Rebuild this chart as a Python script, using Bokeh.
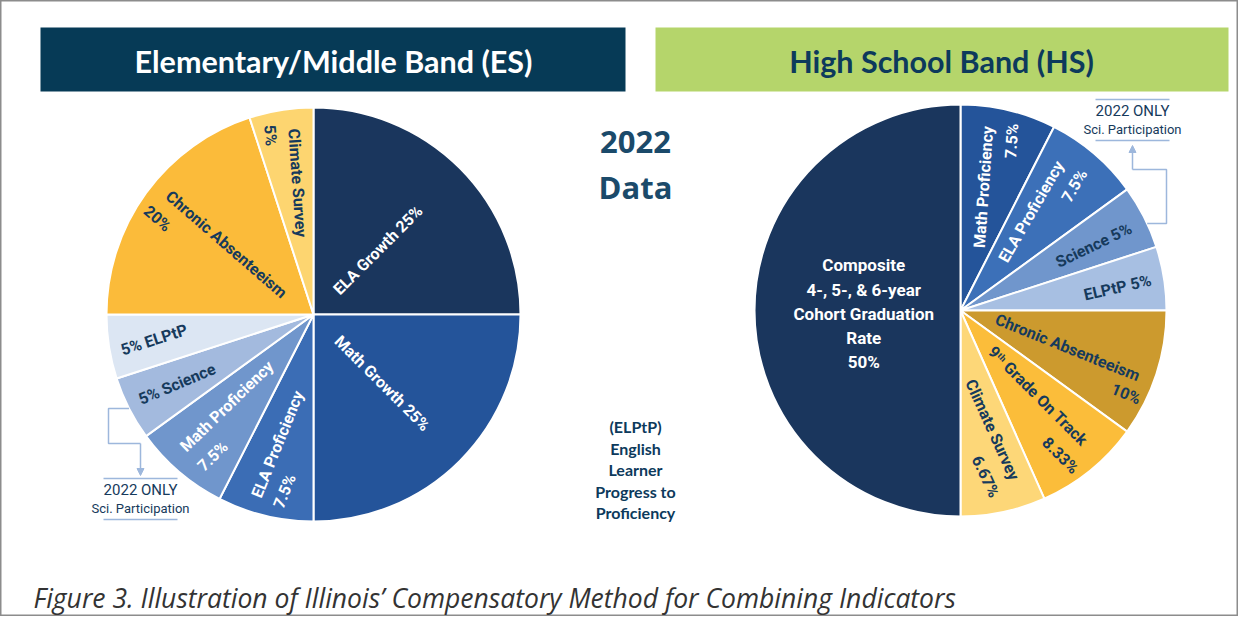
import math
from bokeh.plotting import figure
from bokeh.models import Range1d, Arrow, NormalHead, ColumnDataSource
from bokeh.core.properties import value
from bokeh.embed import file_html
from bokeh.resources import INLINE

# ---------------- data ----------------
es_names = ["ELA Growth", "Math Growth", "ELA Proficiency", "Math Proficiency",
            "Science", "ELPtP", "Chronic Absenteeism", "Climate Survey"]
es_values = [25, 25, 7.5, 7.5, 5, 5, 20, 5]
es_label_lines = [["ELA Growth 25%"], ["Math Growth 25%"], ["ELA Proficiency", "7.5%"],
                  ["Math Proficiency", "7.5%"], ["5% Science"], ["5% ELPtP"],
                  ["Chronic Absenteeism", "20%"], ["Climate Survey", "5%"]]

hs_names = ["Math Proficiency", "ELA Proficiency", "Science", "ELPtP",
            "Chronic Absenteeism", "9th Grade On Track", "Climate Survey",
            "Composite Cohort Graduation Rate"]
hs_values = [7.5, 7.5, 5, 5, 10, 8.33, 6.67, 50]
hs_label_lines = [["Math Proficiency", "7.5%"], ["ELA Proficiency", "7.5%"], ["Science 5%"],
                  ["ELPtP 5%"], ["Chronic Absenteeism", "10%"],
                  ["9\u1d57\u02b0 Grade On Track", "8.33%"], ["Climate Survey", "6.67%"],
                  ["Composite\n4-, 5-, & 6-year\nCohort Graduation\nRate\n50%"]]

es_title = "Elementary/Middle Band (ES)"
hs_title = "High School Band (HS)"
center_title = ["2022", "Data"]
elptp_note = ["(ELPtP)", "English", "Learner", "Progress to", "Proficiency"]
sci_note = ["2022 ONLY", "Sci. Participation"]
caption = "Figure 3. Illustration of Illinois\u2019 Compensatory Method for Combining Indicators"

# ---------------- styles ----------------
TXT = "#163a5c"
WHITE = "#ffffff"
es_colors = ["#1a365d", "#24549a", "#3b6db5", "#7096cc", "#a3bade", "#dce6f3", "#fbbb3a", "#fdd570"]
es_text_colors = [WHITE, WHITE, WHITE, WHITE, TXT, TXT, TXT, TXT]
# per line: (radius fraction, angle offset deg from slice middle, rotation deg)
es_label_pos = [[(0.44, 0, 45)], [(0.47, 0, -45)],
                [(0.65, 2, 68), (0.865, -4.2, 68)],
                [(0.61, 2.9, 44), (0.84, -5.1, 44)],
                [(0.74, 0, 23)], [(0.78, 0, 18)],
                [(0.54, 2.8, -41), (0.885, -4.4, -41)],
                [(0.64, 2.1, -86), (0.89, -4.5, -86)]]

hs_colors = ["#24549a", "#3c70b8", "#7096cc", "#a7bfe2", "#cc9a2e", "#fbbd3a", "#fdd778", "#1a365d"]
hs_text_colors = [WHITE, WHITE, TXT, TXT, TXT, TXT, TXT, WHITE]
hs_label_pos = [[(0.61, -2.9, 86), (0.86, 3.3, 86)],
                [(0.59, -4.9, 60), (0.82, 1.9, 60)],
                [(0.72, 0.9, 25.6)], [(0.77, 0.7, 12.8)],
                [(0.55, 1.1, -22), (0.90, 8.7, -22)],
                [(0.56, -3.2, -45), (0.855, 4.4, -45)],
                [(0.60, -3, -65.6), (0.815, 3.4, -65)],
                [(0.47, -2, 0)]]
ML_SPACING = 24.3

W, H = 1254, 632


def Y(y):  # page-pixel y (down) -> data y (up)
    return H - y


p = figure(width=1238, height=616, x_range=Range1d(0, 1238), y_range=Range1d(16, 632),
           output_backend="svg", toolbar_location=None, min_border=0,
           background_fill_color="white", border_fill_color="white")
p.axis.visible = False
p.grid.visible = False
p.outline_line_color = "#8c8c8c"
p.outline_line_width = 2

# banners
p.quad(left=[40, 655], right=[625, 1228], top=[Y(27), Y(27)], bottom=[Y(91), Y(91)],
       fill_color=["#063a56", "#b5d56b"], line_color=None)
p.text(x=[333, 941], y=[Y(60), Y(60)], text=[es_title, hs_title],
       text_color=[WHITE, "#0d3a5c"], text_font=value("Lato"), text_font_style="bold",
       text_font_size="30.5px", text_align="center", text_baseline="middle")


def draw_pie(cx, cy, R, values, colors, lines, poss, tcolors):
    total = float(sum(values))
    starts, ends, mids = [], [], []
    acc = 0.0
    for v in values:
        a0 = acc / total * 360.0
        acc += v
        a1 = acc / total * 360.0
        starts.append(a0)
        ends.append(a1)
        mids.append((a0 + a1) / 2)
    src = ColumnDataSource(dict(
        start=[math.pi / 2 - math.radians(a) for a in starts],
        end=[math.pi / 2 - math.radians(a) for a in ends],
        color=colors))
    p.wedge(x=cx, y=cy, radius=R, start_angle="start", end_angle="end", direction="clock",
            fill_color="color", line_color="white", line_width=2, source=src)
    tx, ty, tt, ta, tc = [], [], [], [], []
    mx, my, mt, mc = [], [], [], []
    for i, (ls, ps) in enumerate(zip(lines, poss)):
        for line, (rf, dth, rot) in zip(ls, ps):
            th = math.radians(mids[i] + dth)
            x = cx + rf * R * math.sin(th)
            y = cy + rf * R * math.cos(th)
            if "\n" in line:
                parts = line.split("\n")
                n = len(parts)
                for k, part in enumerate(parts):
                    mx.append(x)
                    my.append(y + ((n - 1) / 2 - k) * ML_SPACING)
                    mt.append(part)
                    mc.append(tcolors[i])
            else:
                tx.append(x); ty.append(y); tt.append(line)
                ta.append(math.radians(rot)); tc.append(tcolors[i])
    p.text(x=tx, y=ty, text=tt, angle=ta, text_color=tc, text_font=value("Roboto"),
           text_font_style="bold", text_font_size="16px", text_align="center",
           text_baseline="middle")
    if mt:
        p.text(x=mx, y=my, text=mt, text_color=mc, text_font=value("Roboto"),
               text_font_style="bold", text_font_size="17px", text_align="center",
               text_baseline="middle")
    return mids


es_cx, es_cy, es_R = 313, Y(314), 207
hs_cx, hs_cy, hs_R = 960, Y(310), 206
es_mids = draw_pie(es_cx, es_cy, es_R, es_values, es_colors, es_label_lines, es_label_pos, es_text_colors)
hs_mids = draw_pie(hs_cx, hs_cy, hs_R, hs_values, hs_colors, hs_label_lines, hs_label_pos, hs_text_colors)

# centre texts
p.text(x=[635] * len(center_title), y=[Y(141 + 45 * k) for k in range(len(center_title))],
       text=center_title, text_color="#1b4a6a",
       text_font=value("Open Sans"), text_font_style="bold", text_font_size="31px",
       text_align="center", text_baseline="middle")
p.text(x=[635] * len(elptp_note), y=[Y(426 + 21.5 * k) for k in range(len(elptp_note))],
       text=elptp_note, text_color="#0d3a5c",
       text_font=value("Lato"), text_font_style="bold", text_font_size="16px",
       text_align="center", text_baseline="middle")

# "2022 ONLY / Sci. Participation" call-outs
LB = "#9db7dc"


def callout(tx, ty_top, rim_pt, path_dx, path_dy):
    p.text(x=[tx], y=[Y(ty_top + 11)], text=[sci_note[0]], text_color=TXT,
           text_font=value("Roboto"), text_font_size="15px", text_align="center",
           text_baseline="middle")
    p.text(x=[tx], y=[Y(ty_top + 30)], text=[sci_note[1]], text_color=TXT,
           text_font=value("Roboto"), text_font_size="13px", text_align="center",
           text_baseline="middle")
    p.segment(x0=[tx - 37, tx - 37], x1=[tx + 37, tx + 37],
              y0=[Y(ty_top), Y(ty_top + 41)], y1=[Y(ty_top), Y(ty_top + 41)],
              line_color=LB, line_width=1.5)
    xs = [rim_pt[0]]
    ys = [rim_pt[1]]
    for dx, dy in zip(path_dx, path_dy):
        xs.append(xs[-1] + dx)
        ys.append(ys[-1] + dy)
    p.line(x=xs[:-1], y=ys[:-1], line_color=LB, line_width=1.5)
    p.add_layout(Arrow(end=NormalHead(size=7, fill_color=LB, line_color=LB),
                       x_start=xs[-2], y_start=ys[-2], x_end=xs[-1], y_end=ys[-1],
                       line_color=LB, line_width=1.5))


th = math.radians(es_mids[4])
es_rim = (es_cx + es_R * math.sin(th), es_cy + es_R * math.cos(th))
callout(140, 478, es_rim, [108 - es_rim[0], 0, 32, 0], [0, Y(443) - es_rim[1], 0, -32])

th = math.radians(hs_mids[2] + 2)
hs_rim = (hs_cx + hs_R * math.sin(th), hs_cy + hs_R * math.cos(th))
callout(1132, 99, hs_rim, [1166 - hs_rim[0], 0, -34, 0], [0, Y(169) - hs_rim[1], 0, 24])

# caption
p.text(x=[33], y=[Y(597)], text=[caption], text_color="#333333",
       text_font=value("Open Sans"), text_font_style="italic", text_font_size="26.5px",
       text_align="left", text_baseline="middle")

open("out.html", "w").write(file_html(p, INLINE))
